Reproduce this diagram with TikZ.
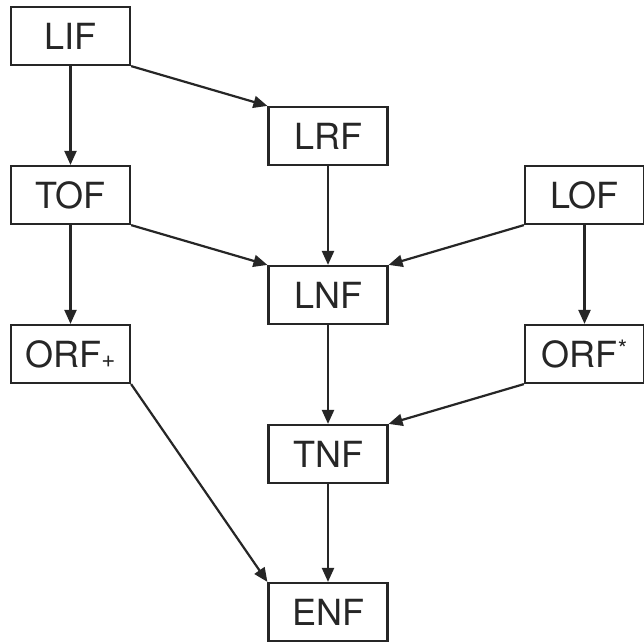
\documentclass[tikz,border=0pt]{standalone}
\usepackage{fontspec}
\setmainfont{TeX Gyre Heros}
\usetikzlibrary{arrows.meta}
\begin{document}
\begin{tikzpicture}[x=1pt,y=-1pt,
  form/.style={draw=black!85, line width=2.2pt, minimum width=119pt, minimum height=58pt,
    inner sep=0pt, font=\fontsize{36}{40}\selectfont, text=black!85},
  link/.style={draw=black!85, line width=2.2pt, -{Triangle[length=14pt,width=12pt]}}]
\useasboundingbox (0,0) rectangle (644,644);
\fill[white] (0,0) rectangle (644,644);
% normal forms
\node[form] (lif) at (70.5,36) {LIF};
\node[form] (tof) at (70.5,195) {TOF};
\node[form] (orfp) at (70.5,354) {ORF\raisebox{-0.02em}{\fontsize{24}{26}\selectfont+}};
\node[form] (lrf) at (328,136) {LRF};
\node[form] (lnf) at (328,295) {LNF};
\node[form] (tnf) at (328,454) {TNF};
\node[form] (enf) at (328,612) {ENF};
\node[form] (lof) at (584.5,195) {LOF};
\node[form] (orfs) at (584.5,354) {ORF\raisebox{0.28em}{\fontsize{24}{26}\selectfont*}};
% implications
\draw[link] (lif.south) -- (tof.north);
\draw[link] (lif.south east) -- (lrf.north west);
\draw[link] (lrf.south) -- (lnf.north);
\draw[link] (tof.south east) -- (lnf.north west);
\draw[link] (lof.south west) -- (lnf.north east);
\draw[link] (tof.south) -- (orfp.north);
\draw[link] (lof.south) -- (orfs.north);
\draw[link] (lnf.south) -- (tnf.north);
\draw[link] (orfs.south west) -- (tnf.north east);
\draw[link] (orfp.south east) -- (enf.north west);
\draw[link] (tnf.south) -- (enf.north);
\end{tikzpicture}
\end{document}
